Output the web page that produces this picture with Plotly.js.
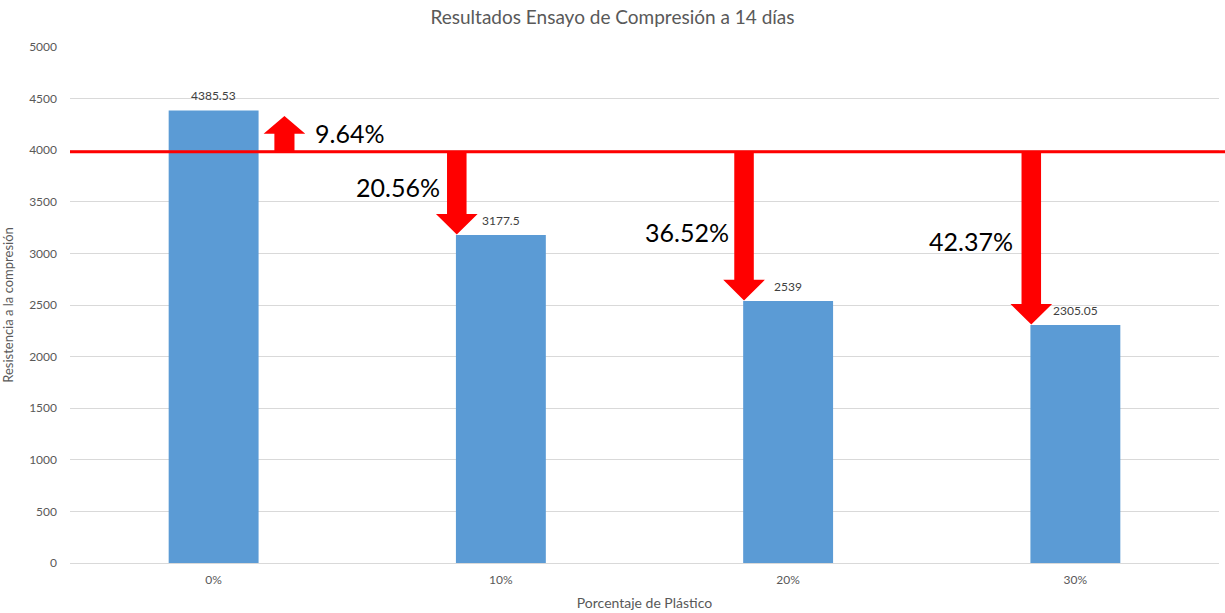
<!DOCTYPE html>
<html>
<head>
<meta charset="utf-8">
<script src="https://cdn.plot.ly/plotly-3.0.1.min.js"></script>
<style>
  html, body { margin: 0; padding: 0; background: #ffffff; }
  #chart { width: 1225px; height: 613px; }
</style>
</head>
<body>
<div id="chart"></div>
<script>
// Compression test results at 14 days
const categories = ['0%', '10%', '20%', '30%'];
const strengths = [4385.53, 3177.5, 2539, 2305.05];
const valueLabels = ['4385.53', '3177.5', '2539', '2305.05'];
const referenceStrength = 3985;
const changeLabels = ['9.64%', '20.56%', '36.52%', '42.37%'];
const changeLabelX = [0.345, 0.795, 1.80, 2.79];
const changeLabelY = [4167, 3643, 3207, 3120];

const xIdx = categories.map((c, i) => i);
const barWidth = 0.313;
const FONT = 'Lato, "Open Sans", sans-serif';

// Block arrow path (in data units) from y0 to tip yTip, centred on x
function blockArrow(x, y0, yTip, shaftW, headW, headH) {
  const dir = yTip > y0 ? 1 : -1;
  const yHead = yTip - dir * headH;
  const s = shaftW / 2, h = headW / 2;
  return `M${x - s},${y0} L${x - s},${yHead} L${x - h},${yHead} L${x},${yTip} ` +
         `L${x + h},${yHead} L${x + s},${yHead} L${x + s},${y0} Z`;
}

const shapes = [{
  type: 'line', xref: 'paper', yref: 'y',
  x0: 0, x1: 1.006, y0: referenceStrength, y1: referenceStrength,
  line: { color: '#ff0000', width: 3 }, layer: 'above'
}];

strengths.forEach((v, i) => {
  let path;
  if (v > referenceStrength) {
    // rising arrow beside the bar
    const ax = i + barWidth / 2 + 0.09;
    path = blockArrow(ax, referenceStrength, v - 55, 0.07, 0.145, 170);
  } else {
    // falling arrow landing on the bar's top-left corner
    const ax = i - barWidth / 2 + 0.003;
    path = blockArrow(ax, referenceStrength, v + 5, 0.068, 0.145, 200);
  }
  shapes.push({
    type: 'path', xref: 'x', yref: 'y', path: path,
    fillcolor: '#ff0000', line: { width: 0 }, layer: 'above'
  });
});

// value labels above each bar
const annotations = strengths.map((v, i) => ({
  x: xIdx[i], y: v, xref: 'x', yref: 'y',
  text: valueLabels[i], showarrow: false,
  xanchor: 'center', yanchor: 'bottom', yshift: 5,
  font: { family: FONT, size: 12, color: '#404040' }
}));

// percentage change labels
changeLabels.forEach((t, i) => annotations.push({
  x: changeLabelX[i], y: changeLabelY[i], xref: 'x', yref: 'y',
  text: t, showarrow: false,
  xanchor: i === 0 ? 'left' : 'right', yanchor: 'middle',
  font: { family: FONT, size: 25, color: '#000000' }
}));

const trace = {
  type: 'bar',
  x: xIdx,
  y: strengths,
  width: barWidth,
  marker: { color: '#5b9bd5', line: { color: '#5b9bd5', width: 0 } },
  hoverinfo: 'x+y'
};

const layout = {
  width: 1225, height: 613,
  margin: { l: 70, r: 6, t: 47, b: 50, pad: 0 },
  paper_bgcolor: '#ffffff', plot_bgcolor: '#ffffff',
  showlegend: false,
  title: {
    text: 'Resultados Ensayo de Compresión a 14 días',
    x: 0.5, xref: 'container', xanchor: 'center',
    y: 0.972, yref: 'container', yanchor: 'middle',
    font: { family: FONT, size: 19, color: '#595959' }
  },
  xaxis: {
    range: [-0.5, 3.5],
    tickmode: 'array', tickvals: xIdx, ticktext: categories,
    showgrid: false, zeroline: false, showline: false,
    ticks: '', ticklen: 0,
    ticklabelstandoff: 8,
    tickfont: { family: FONT, size: 12, color: '#595959' },
    title: { text: 'Porcentaje de Plástico', standoff: 12,
             font: { family: FONT, size: 14, color: '#595959' } }
  },
  yaxis: {
    range: [0, 5000],
    dtick: 500,
    showgrid: true, gridcolor: '#d9d9d9', gridwidth: 1,
    zeroline: true, zerolinecolor: '#d9d9d9', zerolinewidth: 1,
    showline: false, ticks: '',
    tickfont: { family: FONT, size: 12, color: '#595959' },
    ticklabelstandoff: 12,
    title: { text: 'Resistencia a la compresión', standoff: 12,
             font: { family: FONT, size: 13, color: '#595959' } }
  },
  shapes: shapes,
  annotations: annotations
};

Plotly.newPlot('chart', [trace], layout, { displayModeBar: false, staticPlot: true });
</script>
</body>
</html>
